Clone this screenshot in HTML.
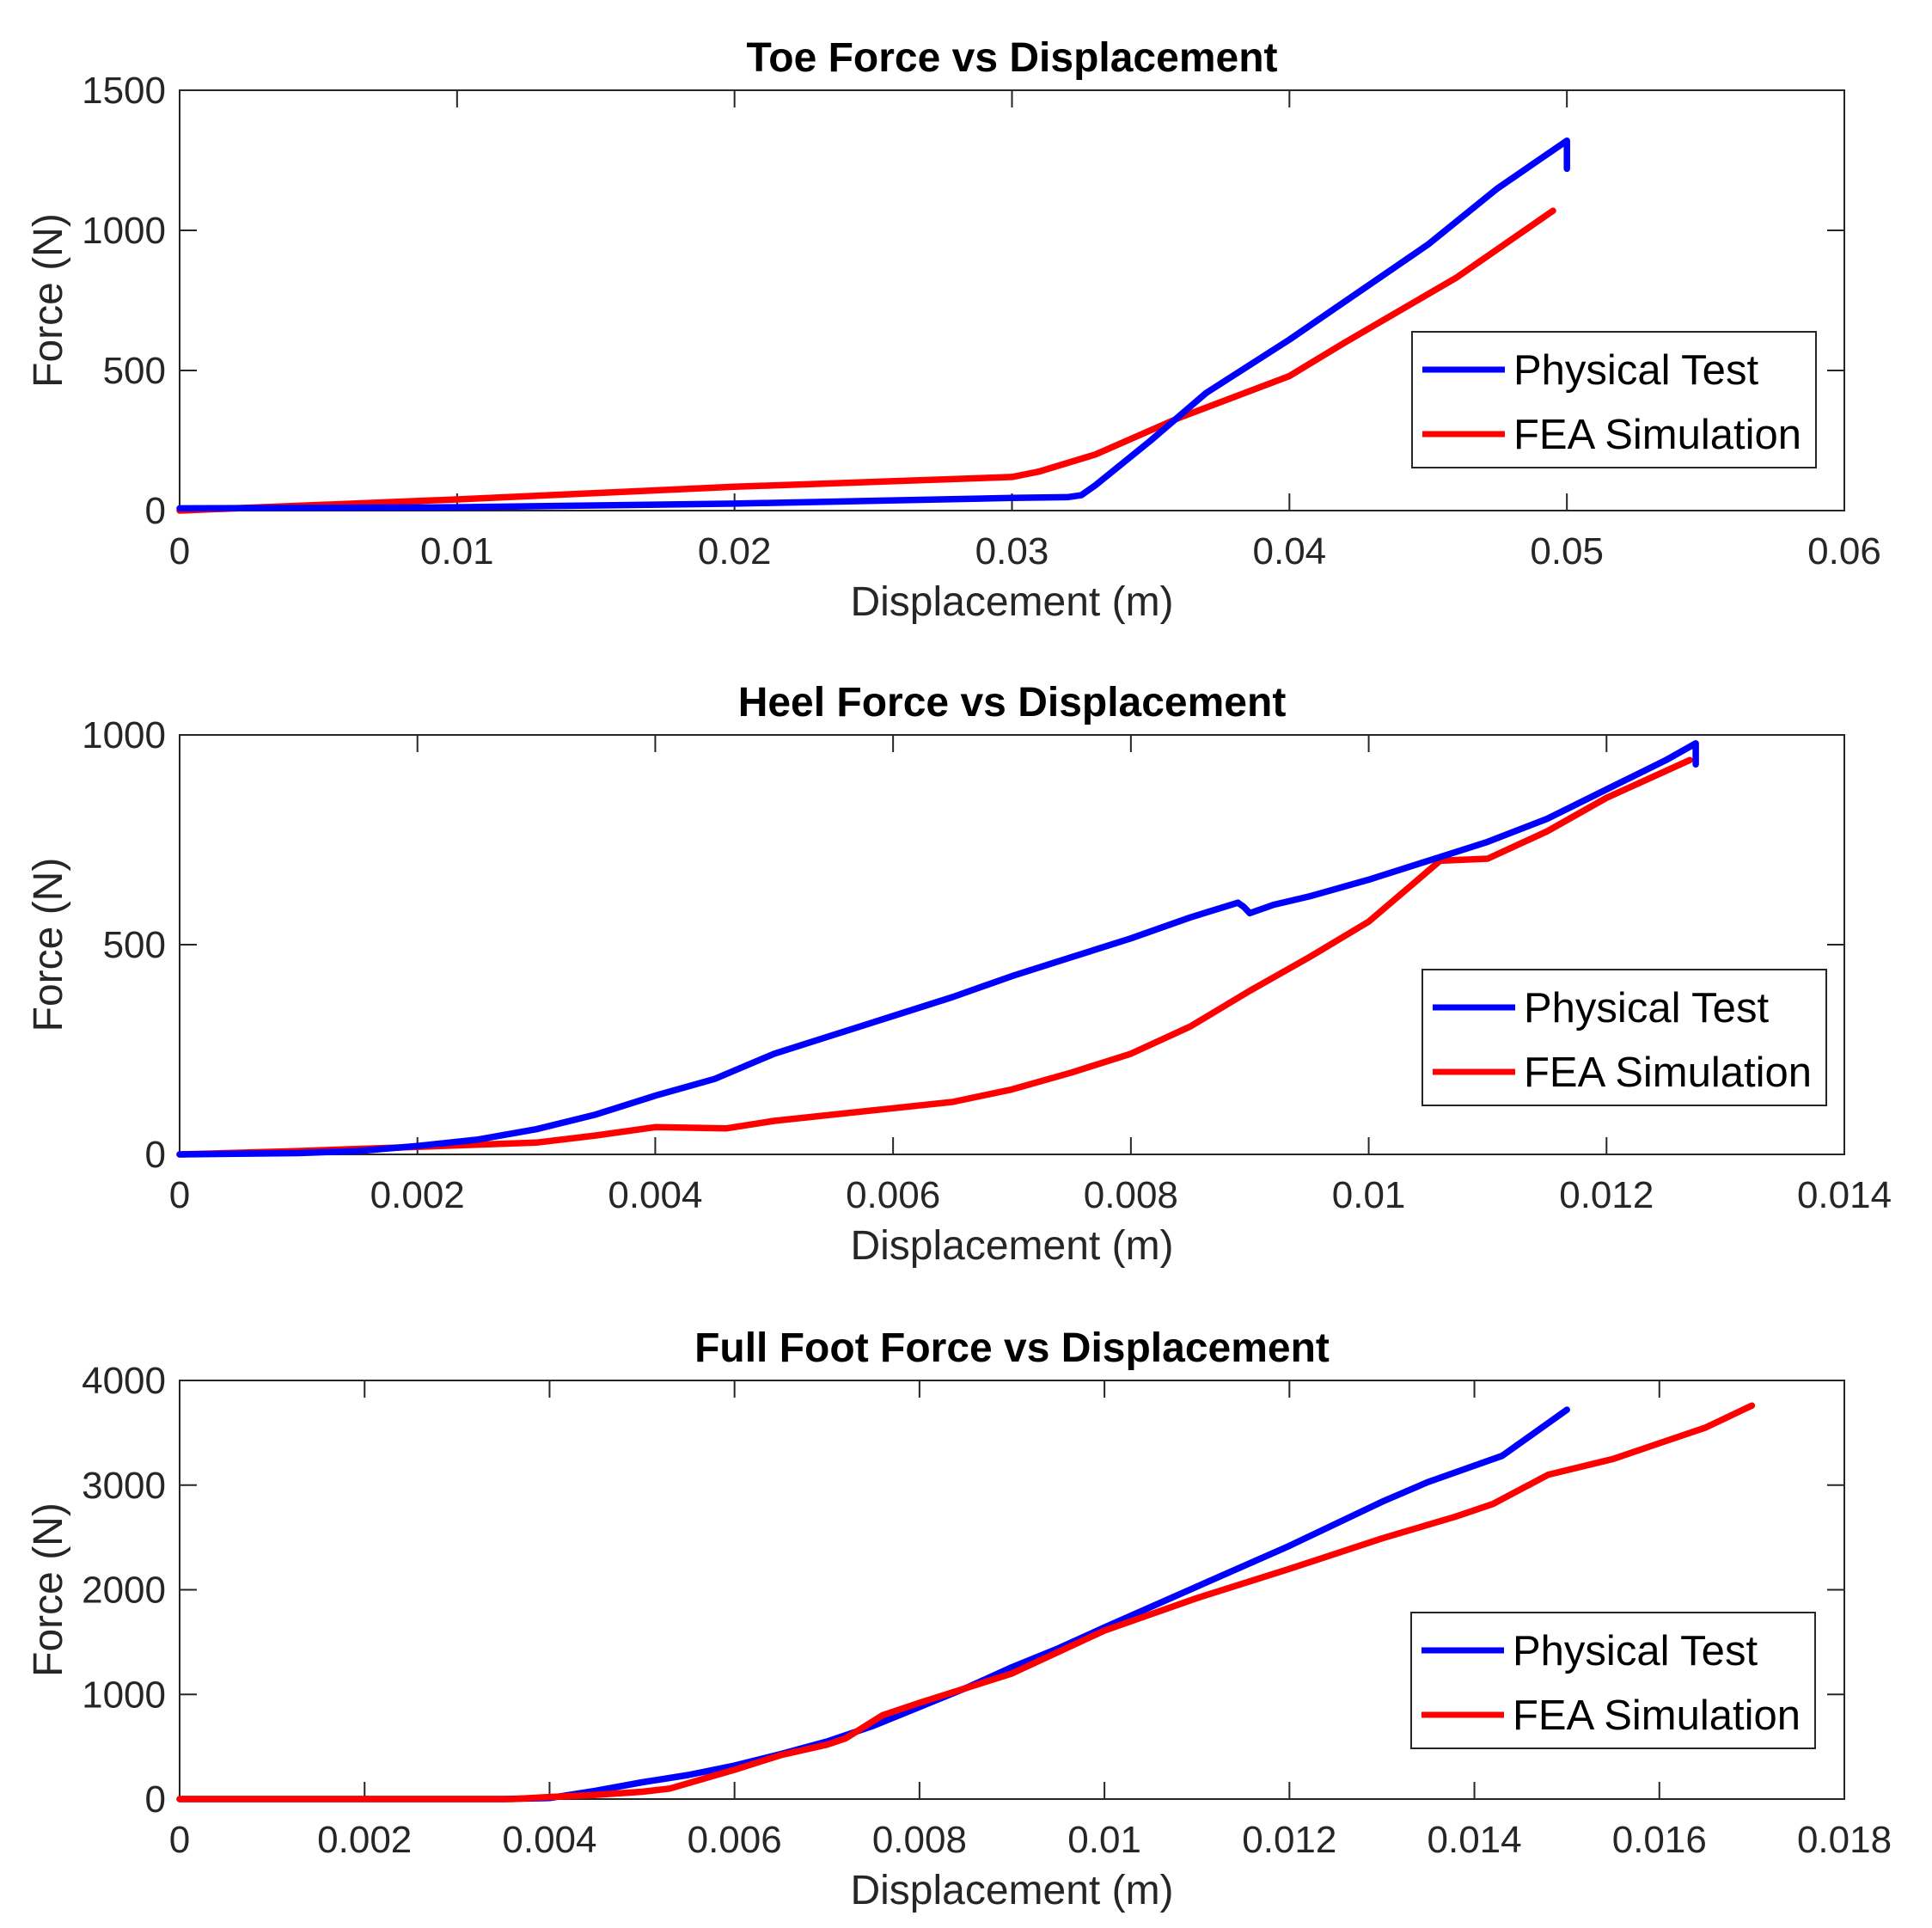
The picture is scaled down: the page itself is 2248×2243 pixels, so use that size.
<!DOCTYPE html>
<html><head><meta charset="utf-8"><style>
html,body{margin:0;padding:0;background:#fff;}
svg{display:block;font-family:"Liberation Sans",Arial,sans-serif;}
</style></head><body>
<svg id="fig" width="2248" height="2243" viewBox="0 0 2248 2243" xmlns="http://www.w3.org/2000/svg"></svg>
<script>
// Plot 1 data: Toe
const toeBlueX=[0,0.01,0.02,0.03,0.032,0.0325,0.033,0.035,0.037,0.04,0.045,0.0475,0.05,0.05];
const toeBlueY=[8,12,25,45,48,55,90,250,420,610,950,1150,1320,1220];
const toeRedX=[0,0.01,0.02,0.03,0.031,0.033,0.036,0.04,0.042,0.046,0.0495];
const toeRedY=[0,40,85,120,140,200,330,480,600,830,1070];
const toeXTicks=[0,0.01,0.02,0.03,0.04,0.05,0.06];
const toeYTicks=[0,500,1000,1500];
// Plot 2 data: Heel
const heelBlueX=[0,0.001,0.0015,0.002,0.0025,0.003,0.0035,0.004,0.0045,0.005,0.0055,0.006,0.0065,0.007,0.0075,0.008,0.0085,0.0089,0.00895,0.009,0.0092,0.0095,0.01,0.0105,0.011,0.0115,0.012,0.0125,0.01275,0.01275];
const heelBlueY=[0,3,8,20,35,60,95,140,180,240,285,330,375,425,470,515,565,600,590,575,595,615,655,700,745,800,870,940,980,930];
const heelRedX=[0,0.001,0.002,0.003,0.0035,0.004,0.0046,0.005,0.006,0.0065,0.007,0.0075,0.008,0.0085,0.009,0.0095,0.01,0.0106,0.011,0.0115,0.012,0.0127];
const heelRedY=[0,8,18,28,45,65,62,80,110,125,155,195,240,305,390,470,555,700,705,770,850,940];
const heelXTicks=[0,0.002,0.004,0.006,0.008,0.01,0.012,0.014];
const heelYTicks=[0,500,1000];
// Plot 3 data: Full foot
const fullBlueX=[0,0.0035,0.004,0.0045,0.005,0.0055,0.006,0.0065,0.007,0.0075,0.008,0.0085,0.009,0.0095,0.01,0.011,0.012,0.013,0.0135,0.0143,0.015];
const fullBlueY=[0,0,10,80,160,230,320,430,550,700,880,1060,1260,1440,1640,2030,2420,2840,3030,3280,3720];
const fullRedX=[0,0.0036,0.004,0.0045,0.005,0.0053,0.006,0.0065,0.007,0.0072,0.0076,0.008,0.009,0.01,0.011,0.012,0.013,0.0138,0.0142,0.0148,0.0155,0.016,0.0165,0.017];
const fullRedY=[0,0,20,40,70,100,280,420,520,580,800,920,1200,1610,1920,2200,2490,2700,2820,3100,3250,3400,3550,3760];
const fullXTicks=[0,0.002,0.004,0.006,0.008,0.01,0.012,0.014,0.016,0.018];
const fullYTicks=[0,1000,2000,3000,4000];

const NS="http://www.w3.org/2000/svg";
const svg=document.getElementById('fig');
function mk(tag,attrs,parent){const e=document.createElementNS(NS,tag);for(const k in attrs)e.setAttribute(k,attrs[k]);(parent||svg).appendChild(e);return e;}
const L=209,R=2146;
function plot(id,top,bot,title,xt,yt,series,leg){
  const g=mk('g',{});
  
  
  const xmin=xt[0],xmax=xt[xt.length-1],ymin=yt[0],ymax=yt[yt.length-1];
  const sx=v=>L+(v-xmin)/(xmax-xmin)*(R-L);
  const sy=v=>bot-(v-ymin)/(ymax-ymin)*(bot-top);
  const box=mk('rect',{x:L,y:top,width:R-L,height:bot-top,fill:'#fff',stroke:'#262626','stroke-width':2},g);
  
  
  xt.forEach(v=>{const x=sx(v);
    mk('line',{x1:x,y1:bot,x2:x,y2:bot-20,stroke:'#262626','stroke-width':2},g);
    mk('line',{x1:x,y1:top,x2:x,y2:top+20,stroke:'#262626','stroke-width':2},g);
    const t=mk('text',{x:x,y:bot+62,'font-size':44,'text-anchor':'middle',fill:'#262626'},g);
    t.textContent=String(v);
    
    });
  yt.forEach(v=>{const y=sy(v);
    mk('line',{x1:L,y1:y,x2:L+20,y2:y,stroke:'#262626','stroke-width':2},g);
    mk('line',{x1:R,y1:y,x2:R-20,y2:y,stroke:'#262626','stroke-width':2},g);
    const t=mk('text',{x:L-16,y:y+15,'font-size':44,'text-anchor':'end',fill:'#262626'},g);
    t.textContent=String(v);
    
    });
  const tt=mk('text',{x:(L+R)/2,y:top-22,'font-size':48,'font-weight':'bold','text-anchor':'middle',fill:'#000'},g);
  tt.textContent=title;
  
  
  const xl=mk('text',{x:(L+R)/2,y:bot+122,'font-size':48,'text-anchor':'middle',fill:'#262626'},g);
  xl.textContent='Displacement (m)';
  
  
  const cy=(top+bot)/2;
  const yl=mk('text',{x:72,y:cy,'font-size':48,'text-anchor':'middle',fill:'#262626',transform:'rotate(-90 72 '+cy+')'},g);
  yl.textContent='Force (N)';
  
  
  series.forEach(s=>{
    const d=s.x.map((v,i)=>(i?'L':'M')+sx(v).toFixed(1)+' '+sy(s.y[i]).toFixed(1)).join(' ');
    const p=mk('path',{d:d,fill:'none',stroke:s.c,'stroke-width':7.5,'stroke-linejoin':'round','stroke-linecap':'round'},g);
    
    
  });
  const lg=mk('g',{},g);
  
  
  mk('rect',{x:leg[0],y:leg[1],width:470,height:158,fill:'#fff',stroke:'#262626','stroke-width':2},lg);
  [['Physical Test','#0000ff'],['FEA Simulation','#ff0000']].forEach((e,i)=>{
    const y=leg[1]+44+i*75;
    mk('line',{x1:leg[0]+12,y1:y,x2:leg[0]+108,y2:y,stroke:e[1],'stroke-width':7},lg);
    const t=mk('text',{x:leg[0]+118,y:y+17,'font-size':49,fill:'#000'},lg);
    t.textContent=e[0];
    
    
  });
}
plot('toe',105,594,'Toe Force vs Displacement',toeXTicks,toeYTicks,
 [{x:toeRedX,y:toeRedY,c:'#ff0000',n:'toe-fea-line'},{x:toeBlueX,y:toeBlueY,c:'#0000ff',n:'toe-physical-line'}],[1643,386]);
plot('heel',855,1343,'Heel Force vs Displacement',heelXTicks,heelYTicks,
 [{x:heelRedX,y:heelRedY,c:'#ff0000',n:'heel-fea-line'},{x:heelBlueX,y:heelBlueY,c:'#0000ff',n:'heel-physical-line'}],[1655,1128]);
plot('full',1606,2093,'Full Foot Force vs Displacement',fullXTicks,fullYTicks,
 [{x:fullBlueX,y:fullBlueY,c:'#0000ff',n:'full-physical-line'},{x:fullRedX,y:fullRedY,c:'#ff0000',n:'full-fea-line'}],[1642,1876]);
</script>
</body></html>
